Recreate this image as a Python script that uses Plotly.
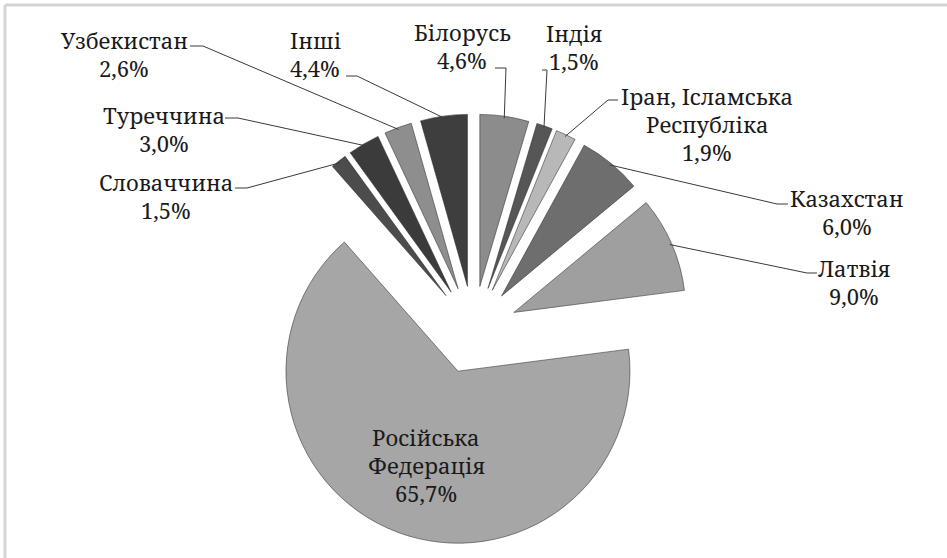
import math
import plotly.graph_objects as go

# ---------------- data ----------------
countries = ["Білорусь", "Індія", "Іран, Ісламська Республіка", "Казахстан", "Латвія",
             "Російська Федерація", "Словаччина", "Туреччина", "Узбекистан", "Інші"]
label_lines = [["Білорусь"], ["Індія"], ["Іран, Ісламська", "Республіка"], ["Казахстан"],
               ["Латвія"], ["Російська", "Федерація"], ["Словаччина"], ["Туреччина"],
               ["Узбекистан"], ["Інші"]]
shares = [4.6, 1.5, 1.9, 6.0, 9.0, 65.7, 1.5, 3.0, 2.6, 4.4]

# ---------------- styles ----------------
colors = ["#8c8c8c", "#565656", "#b8b8b8", "#6e6e6e", "#9f9f9f",
          "#a6a6a6", "#4c4c4c", "#3b3b3b", "#8e8e8e", "#3e3e3e"]

W, H = 947, 558
CX, CY = 473.5, 330.0      # pie centre (px)
R = 172.0                   # pie radius (px)
PULL = 0.256                # explosion of every slice
HALF = R * (1 + PULL)

# label positions (px): centre x, first-line centre y
label_pos = [(462, 32), (574, 33), (707, 96), (847, 198), (854, 268),
             (426, 437), (166, 182), (164, 115), (124, 40), (315, 40)]
LINE_GAP = 28
FONT_SIZE = 22
FONT = "Noto Serif"
# leader lines: start point near the label and elbow point (px); None = no leader
leader_pts = [((495, 68), (506, 68)), ((542, 70), (547, 70)), ((618, 100), (608, 100)),
              ((788, 204), (777, 204)), ((817, 273), (807, 273)), None,
              ((235, 188), (247, 188)), ((225, 118), (238, 118)),
              ((190, 46), (203, 46)), ((346, 76), (357, 76))]


def px(x):
    return x / W


def py(y):
    return 1 - y / H


fig = go.Figure(go.Pie(
    labels=countries,
    values=shares,
    sort=False,
    direction="clockwise",
    rotation=0,
    pull=[PULL] * len(shares),
    marker=dict(colors=colors, line=dict(color="rgba(45,45,45,0.55)", width=1)),
    textinfo="none",
    hoverinfo="label+percent",
    domain=dict(x=[px(CX - HALF), px(CX + HALF)], y=[py(CY + HALF), py(CY - HALF)]),
    showlegend=False,
))

annotations = []
shapes = []
total = sum(shares)
cum = 0.0
for i, (name, val) in enumerate(zip(countries, shares)):
    mid = (cum + val / 2) / total * 2 * math.pi
    cum += val
    lines = label_lines[i] + [f"{val:.1f}".replace(".", ",") + "%"]
    lx, ly = label_pos[i]
    for k, t in enumerate(lines):
        annotations.append(dict(
            x=px(lx), y=py(ly + k * LINE_GAP), xref="paper", yref="paper",
            text=t, showarrow=False, xanchor="center", yanchor="middle",
            font=dict(family=FONT, size=FONT_SIZE, color="#1a1a1a")))
    if leader_pts[i] is not None:
        (sx, sy), (ex, ey) = leader_pts[i]
        rr = HALF - 2
        ax = CX + rr * math.sin(mid)
        ay = CY - rr * math.cos(mid)
        shapes.append(dict(
            type="path", xref="paper", yref="paper",
            path=f"M {px(sx)},{py(sy)} L {px(ex)},{py(ey)} L {px(ax)},{py(ay)}",
            line=dict(color="#3a3a3a", width=1)))

# outer chart frame (only the top and left edges are inside the picture)
shapes.append(dict(type="line", xref="paper", yref="paper",
                   x0=px(5), y0=py(5), x1=1.0, y1=py(5),
                   line=dict(color="#d4d4d4", width=3), layer="above"))
shapes.append(dict(type="line", xref="paper", yref="paper",
                   x0=px(5), y0=py(5), x1=px(5), y1=0.0,
                   line=dict(color="#d4d4d4", width=3), layer="above"))

fig.update_layout(
    width=W, height=H,
    margin=dict(l=0, r=0, t=0, b=0),
    paper_bgcolor="white", plot_bgcolor="white",
    font=dict(family=FONT),
    annotations=annotations,
    shapes=shapes,
)

fig.write_html("out.html",
               config={"displayModeBar": False},
               post_script="document.body.style.margin='0';"
                           "document.body.style.overflow='hidden';")
